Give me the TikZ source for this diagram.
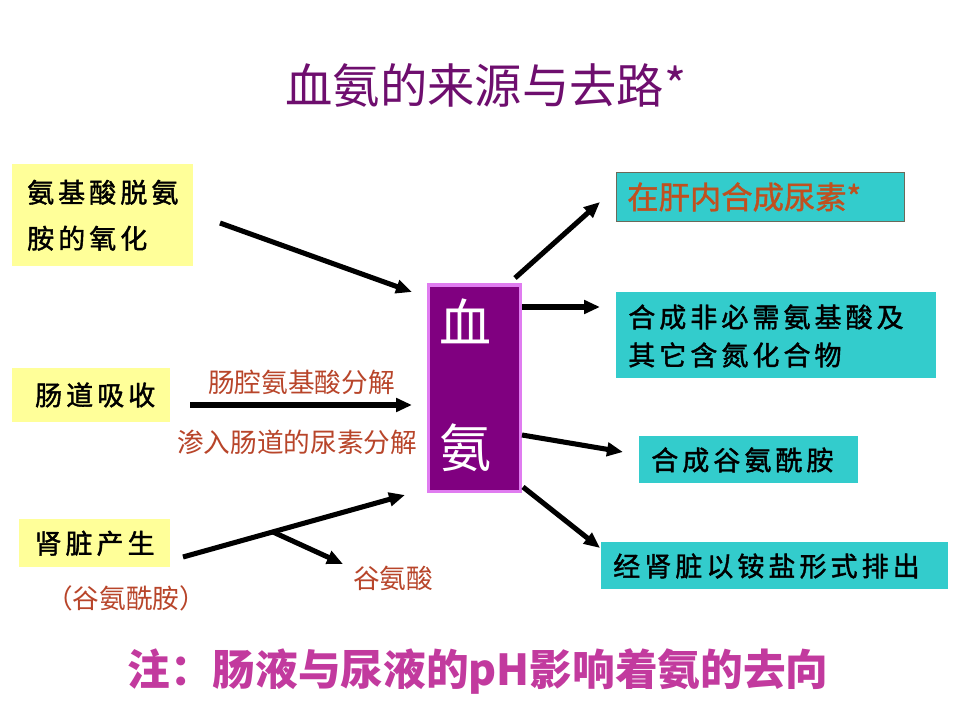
\documentclass[tikz,border=0pt]{standalone}
\usepackage{fontspec}
\setmainfont{Noto Sans CJK SC}
\newfontfamily\cjk{Noto Sans CJK SC}
\newfontfamily\cjkfb[FakeBold=1.2]{Noto Sans CJK SC}
\newfontfamily\cjksp[LetterSpace=15,FakeBold=1.5]{Noto Sans CJK SC}
\usetikzlibrary{arrows.meta}
\definecolor{ybox}{HTML}{FFFF99}
\definecolor{cbox}{HTML}{33CCCC}
\definecolor{pbox}{HTML}{800080}
\definecolor{pborder}{HTML}{E07CF0}
\definecolor{titlec}{HTML}{6E0E6E}
\definecolor{labc}{HTML}{B8452A}
\definecolor{orc}{HTML}{C0501F}
\definecolor{footc}{HTML}{C23A9E}
\definecolor{aborder}{HTML}{6A6A5A}
\tikzset{
  yellowbox/.style={fill=ybox, draw=none, anchor=north west, inner sep=0pt, align=left, font=\cjksp\fontsize{20.25}{34.5}\selectfont},
  cyanbox/.style={fill=cbox, draw=none, anchor=north west, inner sep=0pt},
  boxtext/.style={anchor=west, inner sep=0pt, align=left, font=\cjksp\fontsize{20.25}{28.5}\selectfont},
  redlabel/.style={text=labc, inner sep=0pt, font=\cjk\fontsize{20}{24}\selectfont},
  fatarrow/.style={line width=3.8pt, -{Triangle[length=12pt,width=10pt]}},
  fatline/.style={line width=3.8pt}
}
\begin{document}
\begin{tikzpicture}[x=0.75pt,y=-0.75pt]
\useasboundingbox (0,0) rectangle (960,720);
\fill[white] (0,0) rectangle (960,720);
% title
\node[text=titlec, inner sep=0pt, font=\cjk\fontsize{35.5}{40}\selectfont] (title) at (486,85) {血氨的来源与去路*};
% left boxes
\node[yellowbox, minimum width=135.75pt, minimum height=76.5pt] (src1) at (12,164) {氨基酸脱氨\\胺的氧化};
\node[yellowbox, minimum width=118.5pt, minimum height=40pt] (src2) at (12,368) {\hspace{6pt}肠道吸收};
\node[yellowbox, minimum width=113pt, minimum height=36pt] (src3) at (19,519) {肾脏产生};
\node[redlabel] (gln) at (126,598) {（谷氨酰胺）};
% center box
\node[fill=pbox, draw=pborder, line width=2.3pt, anchor=north west, minimum width=69pt, minimum height=155pt, inner sep=0pt] (blood) at (426.5,283.5) {};
\node[text=white, inner sep=0pt, font=\cjk\fontsize{39}{45}\selectfont] (xue) at (465,321) {血};
\node[text=white, inner sep=0pt, font=\cjk\fontsize{39}{45}\selectfont] (an) at (465,448) {氨};
% left labels
\node[redlabel] (l1) at (301.5,382) {肠腔氨基酸分解};
\node[redlabel] (l2) at (297,442) {渗入肠道的尿素分解};
\node[redlabel] (l3) at (393,578) {谷氨酸};
% right boxes
\node[cyanbox, draw=aborder, line width=0.8pt, minimum width=216pt, minimum height=36.75pt] (d1) at (616,172) {};
\node[anchor=west, inner sep=0pt, text=orc, font=\cjkfb\fontsize{23.5}{26}\selectfont] (d1t) at (627,197) {在肝内合成尿素*};
\node[cyanbox, minimum width=240pt, minimum height=64.5pt] (d2) at (616,292) {};
\node[boxtext] (d2t) at (628,336) {合成非必需氨基酸及\\其它含氮化合物};
\node[cyanbox, minimum width=164.25pt, minimum height=35.25pt] (d3) at (639,436) {};
\node[boxtext] (d3t) at (651,460) {合成谷氨酰胺};
\node[cyanbox, minimum width=260.25pt, minimum height=35.25pt] (d4) at (601,542) {};
\node[boxtext] (d4t) at (613,566) {经肾脏以铵盐形式排出};
% footer
\node[text=footc, inner sep=0pt, font=\cjk\bfseries\fontsize{32}{38}\selectfont] (foot) at (478,672) {注：肠液与尿液的pH影响着氨的去向};
% connector end points
\coordinate (a1s) at (220,223);
\coordinate (a1e) at (412,292);
\coordinate (a2s) at (190,405);
\coordinate (a2e) at (412,405);
\coordinate (a3s) at (183,557);
\coordinate (a3e) at (405,495);
\coordinate (br) at (273,532);
\coordinate (bre) at (343,564);
\coordinate (r1s) at (515,278);
\coordinate (r1e) at (600,202);
\coordinate (r2s) at (522,307);
\coordinate (r2e) at (600,307);
\coordinate (r3s) at (522,435);
\coordinate (r3e) at (623,452);
\coordinate (r4s) at (523,487);
\coordinate (r4e) at (600,548);
% arrows
\draw[fatarrow] (a1s) -- (a1e);
\draw[fatarrow] (a2s) -- (a2e);
\draw[fatarrow] (a3s) -- (a3e);
\draw[fatarrow] (br) -- (bre);
\draw[fatarrow] (r1s) -- (r1e);
\draw[fatarrow] (r2s) -- (r2e);
\draw[fatarrow] (r3s) -- (r3e);
\draw[fatarrow] (r4s) -- (r4e);
\end{tikzpicture}
\end{document}
